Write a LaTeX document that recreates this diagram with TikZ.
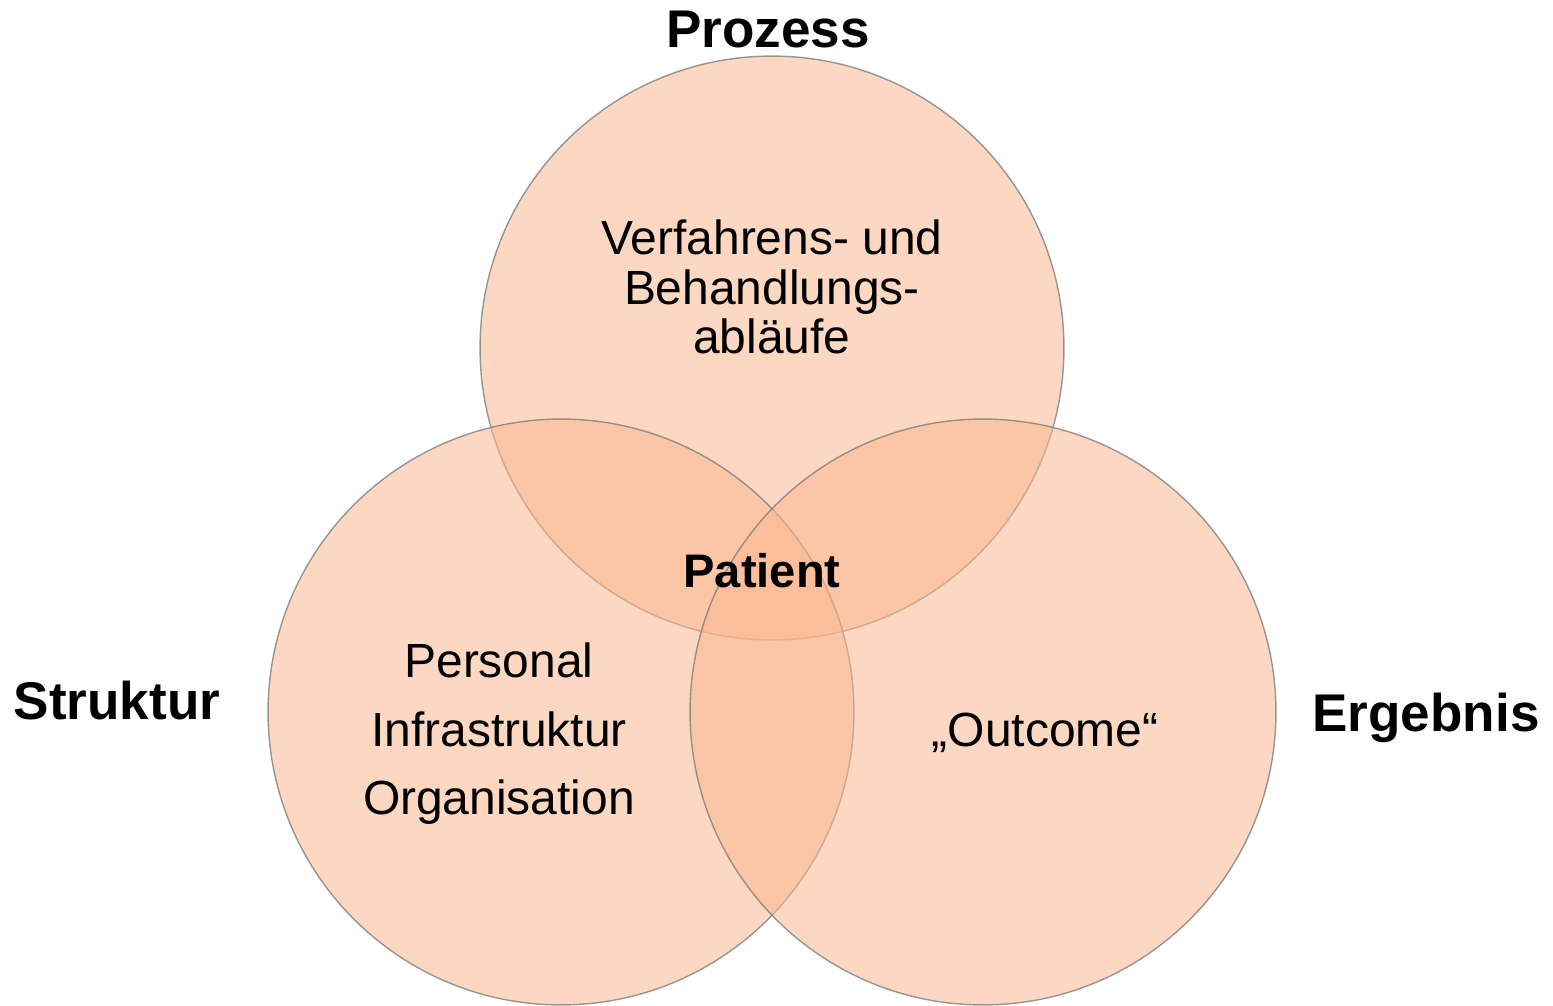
\documentclass[tikz,border=0pt]{standalone}
\usepackage{fontspec}
\setmainfont{Liberation Sans}
\definecolor{peach}{RGB}{250,184,144}
\definecolor{rim}{RGB}{120,120,120}
\begin{document}
\begin{tikzpicture}[x=0.02cm,y=-0.02cm,
  ring/.style={fill=peach,fill opacity=0.56,draw=rim,draw opacity=0.75,line width=0.8pt},
  title/.style={font=\fontsize{30.2}{34}\selectfont\bfseries,inner sep=0pt},
  body/.style={font=\fontsize{27.3}{28}\selectfont,inner sep=0pt,align=center}]
  \useasboundingbox (0,0) rectangle (1553,1005);
  % the three overlapping circles
  \begin{scope}
    \clip (0,0) rectangle (1553,1005);
    \path[ring] (772,348) circle[radius=5.84cm];
    \path[ring] (561,712) circle[radius=5.86cm];
    \path[ring] (983,712) circle[radius=5.86cm];
  \end{scope}
  % headings
  \node[title] (prozess) at (768,30) {Prozess};
  \node[title] (struktur) at (117,701) {Struktur};
  \node[title] (ergebnis) at (1426,718) {Ergebnis};
  \node[font=\fontsize{26.8}{30}\selectfont\bfseries,inner sep=0pt] (patient) at (762,571) {Patient};
  % contents
  \node[body] (ablauf) at (772,287) {Verfahrens- und\\Behandlungs-\\abläufe};
  \node[body,font=\fontsize{27.3}{39}\selectfont] (struk) at (499,734) {Personal\\Infrastruktur\\Organisation};
  \node[body] (outcome) at (1045,733) {„Outcome“};
\end{tikzpicture}
\end{document}
